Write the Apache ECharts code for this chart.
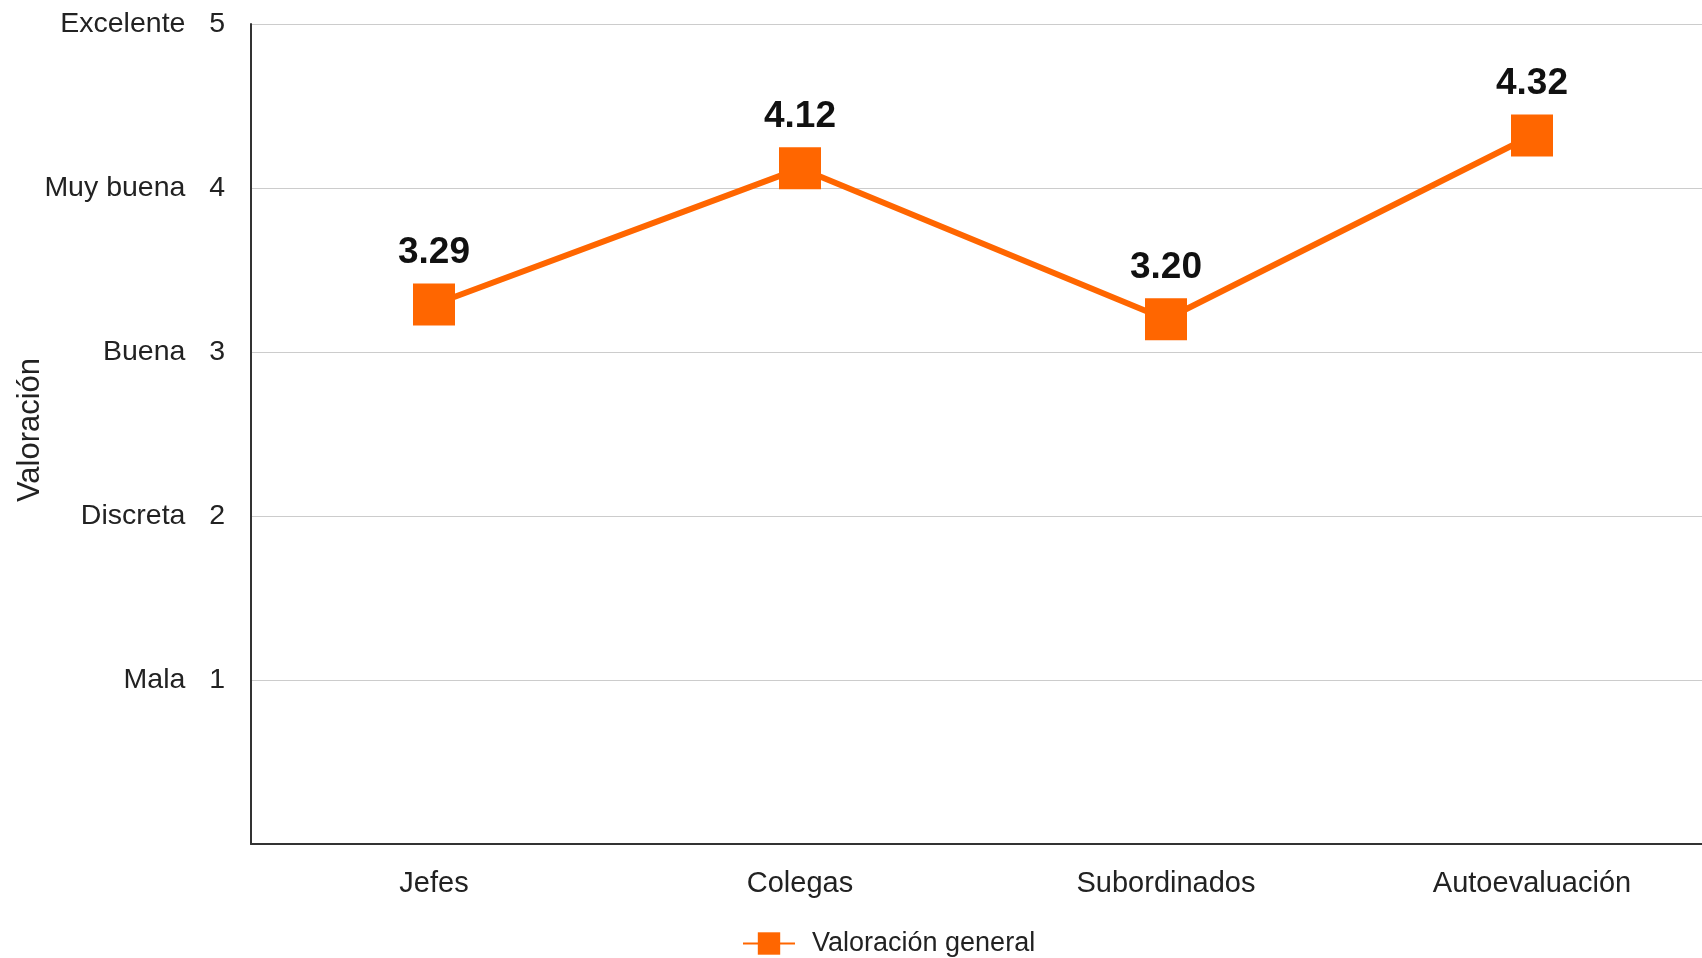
<!DOCTYPE html>
<html>
<head>
<meta charset="utf-8">
<script src="https://cdn.jsdelivr.net/npm/echarts@6/dist/echarts.min.js"></script>
<style>
html,body{margin:0;padding:0;background:#fff;overflow:hidden;}
#c{width:1702px;height:958px;}
</style>
</head>
<body>
<div id="c"></div>
<script>
const categories = ['Jefes', 'Colegas', 'Subordinados', 'Autoevaluación'];
const values = [3.29, 4.12, 3.20, 4.32];
const seriesName = 'Valoración general';
const yAxisTitle = 'Valoración';
const yLevelNames = ['', 'Mala', 'Discreta', 'Buena', 'Muy buena', 'Excelente'];

const FONT = '"Liberation Sans", Arial, sans-serif';
const chart = echarts.init(document.getElementById('c'), null, {renderer: 'canvas'});
chart.setOption({
  animation: false,
  backgroundColor: '#ffffff',
  textStyle: {fontFamily: FONT},
  grid: {left: 251, top: 24, bottom: 114, right: -13, containLabel: false, outerBoundsMode: 'none'},
  legend: {
    bottom: -4,
    left: 737,
    itemWidth: 52,
    itemHeight: 28,
    itemGap: 20,
    textStyle: {fontFamily: FONT, fontSize: 27, color: '#222', padding: [0, 0, 0, 12]},
    data: [seriesName]
  },
  xAxis: {
    type: 'category',
    data: categories,
    boundaryGap: true,
    axisLine: {lineStyle: {color: '#333', width: 2}},
    axisTick: {show: false},
    axisLabel: {fontFamily: FONT, fontSize: 29, color: '#222', margin: 25},
    splitLine: {show: false}
  },
  yAxis: {
    type: 'value',
    min: 0,
    max: 5,
    interval: 1,
    name: yAxisTitle,
    nameLocation: 'middle',
    nameGap: 205,
    nameMoveOverlap: false,
    nameTextStyle: {fontFamily: FONT, fontSize: 31, color: '#222', padding: [0, 0, 0, 8]},
    axisLine: {show: true, lineStyle: {color: '#333', width: 2}},
    axisTick: {show: false},
    axisLabel: {
      fontFamily: FONT, fontSize: 28.5, color: '#222', margin: 26, padding: [5, 0, 0, 0],
      formatter: function (v) { return v === 0 ? '' : yLevelNames[v] + '   ' + v; }
    },
    splitLine: {lineStyle: {color: '#cccccc', width: 1}}
  },
  series: [{
    name: seriesName,
    type: 'line',
    data: values,
    symbol: 'rect',
    symbolSize: 42,
    itemStyle: {color: '#ff6600'},
    lineStyle: {color: '#ff6600', width: 6},
    label: {
      show: true,
      position: 'top',
      distance: 12,
      fontFamily: FONT,
      fontSize: 37,
      fontWeight: 'bold',
      color: '#111',
      formatter: function (p) { return p.value.toFixed(2); }
    }
  }]
});
</script>
</body>
</html>
